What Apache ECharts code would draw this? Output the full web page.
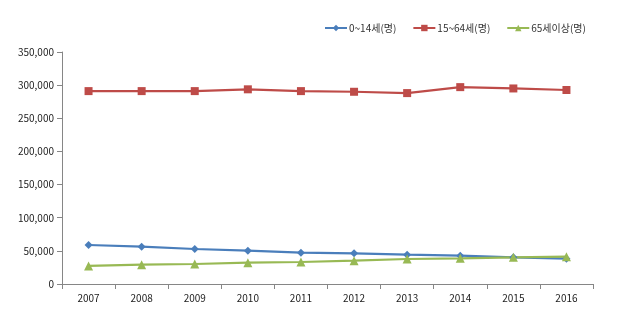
<!DOCTYPE html>
<html><head><meta charset="utf-8">
<script src="https://cdn.jsdelivr.net/npm/echarts@6/dist/echarts.min.js"></script>
<style>html,body{margin:0;padding:0;background:#fff}#c{width:640px;height:328px}</style>
</head><body><div id="c"></div>
<script>
const years = ['2007','2008','2009','2010','2011','2012','2013','2014','2015','2016'];
const age0_14 = [58800,56300,52800,50300,47300,46300,44300,42700,40200,38200];
const age15_64 = [291000,291000,291000,293700,291000,290000,288000,297000,295000,292700];
const age65 = [27200,29200,30200,32200,33200,35200,37700,38700,40200,41200];
const names = ['0~14세(명)','15~64세(명)','65세이상(명)'];
const colors = ['#4a7ebb','#be4b48','#98b954'];

const chart = echarts.init(document.getElementById('c'));
const font = '"Noto Sans CJK KR", "Noto Sans", sans-serif';
chart.setOption({
  animation:false,
  textStyle:{fontFamily:font},
  legend:{top:18,left:319,itemWidth:22,itemHeight:8,itemGap:16,
    textStyle:{fontSize:10,color:'#333',fontFamily:font,padding:[0,0,0,-3]},
    data:names},
  grid:{left:62,right:47,top:52,bottom:44},
  xAxis:{type:'category',data:years,boundaryGap:true,
    axisLine:{lineStyle:{color:'#868686'}},
    axisTick:{show:true,length:5,lineStyle:{color:'#868686'},interval:0},
    axisLabel:{color:'#222',fontSize:10,margin:9,fontFamily:font}},
  yAxis:{type:'value',min:0,max:350000,interval:50000,
    axisLine:{show:true,lineStyle:{color:'#868686'}},
    axisTick:{show:true,length:5,lineStyle:{color:'#868686'}},
    splitLine:{show:false},
    axisLabel:{color:'#222',fontSize:10,margin:8,fontFamily:font,
      formatter:v=>v.toLocaleString('en-US')}},
  series:[
    {name:names[0],type:'line',data:age0_14,symbol:'diamond',symbolSize:8,
     itemStyle:{color:colors[0]},lineStyle:{width:2.2,color:colors[0]}},
    {name:names[1],type:'line',data:age15_64,symbol:'rect',symbolSize:8,
     itemStyle:{color:colors[1]},lineStyle:{width:2.2,color:colors[1]}},
    {name:names[2],type:'line',data:age65,symbol:'triangle',symbolSize:9,
     itemStyle:{color:colors[2]},lineStyle:{width:2.2,color:colors[2]}}
  ]
});
</script></body></html>
